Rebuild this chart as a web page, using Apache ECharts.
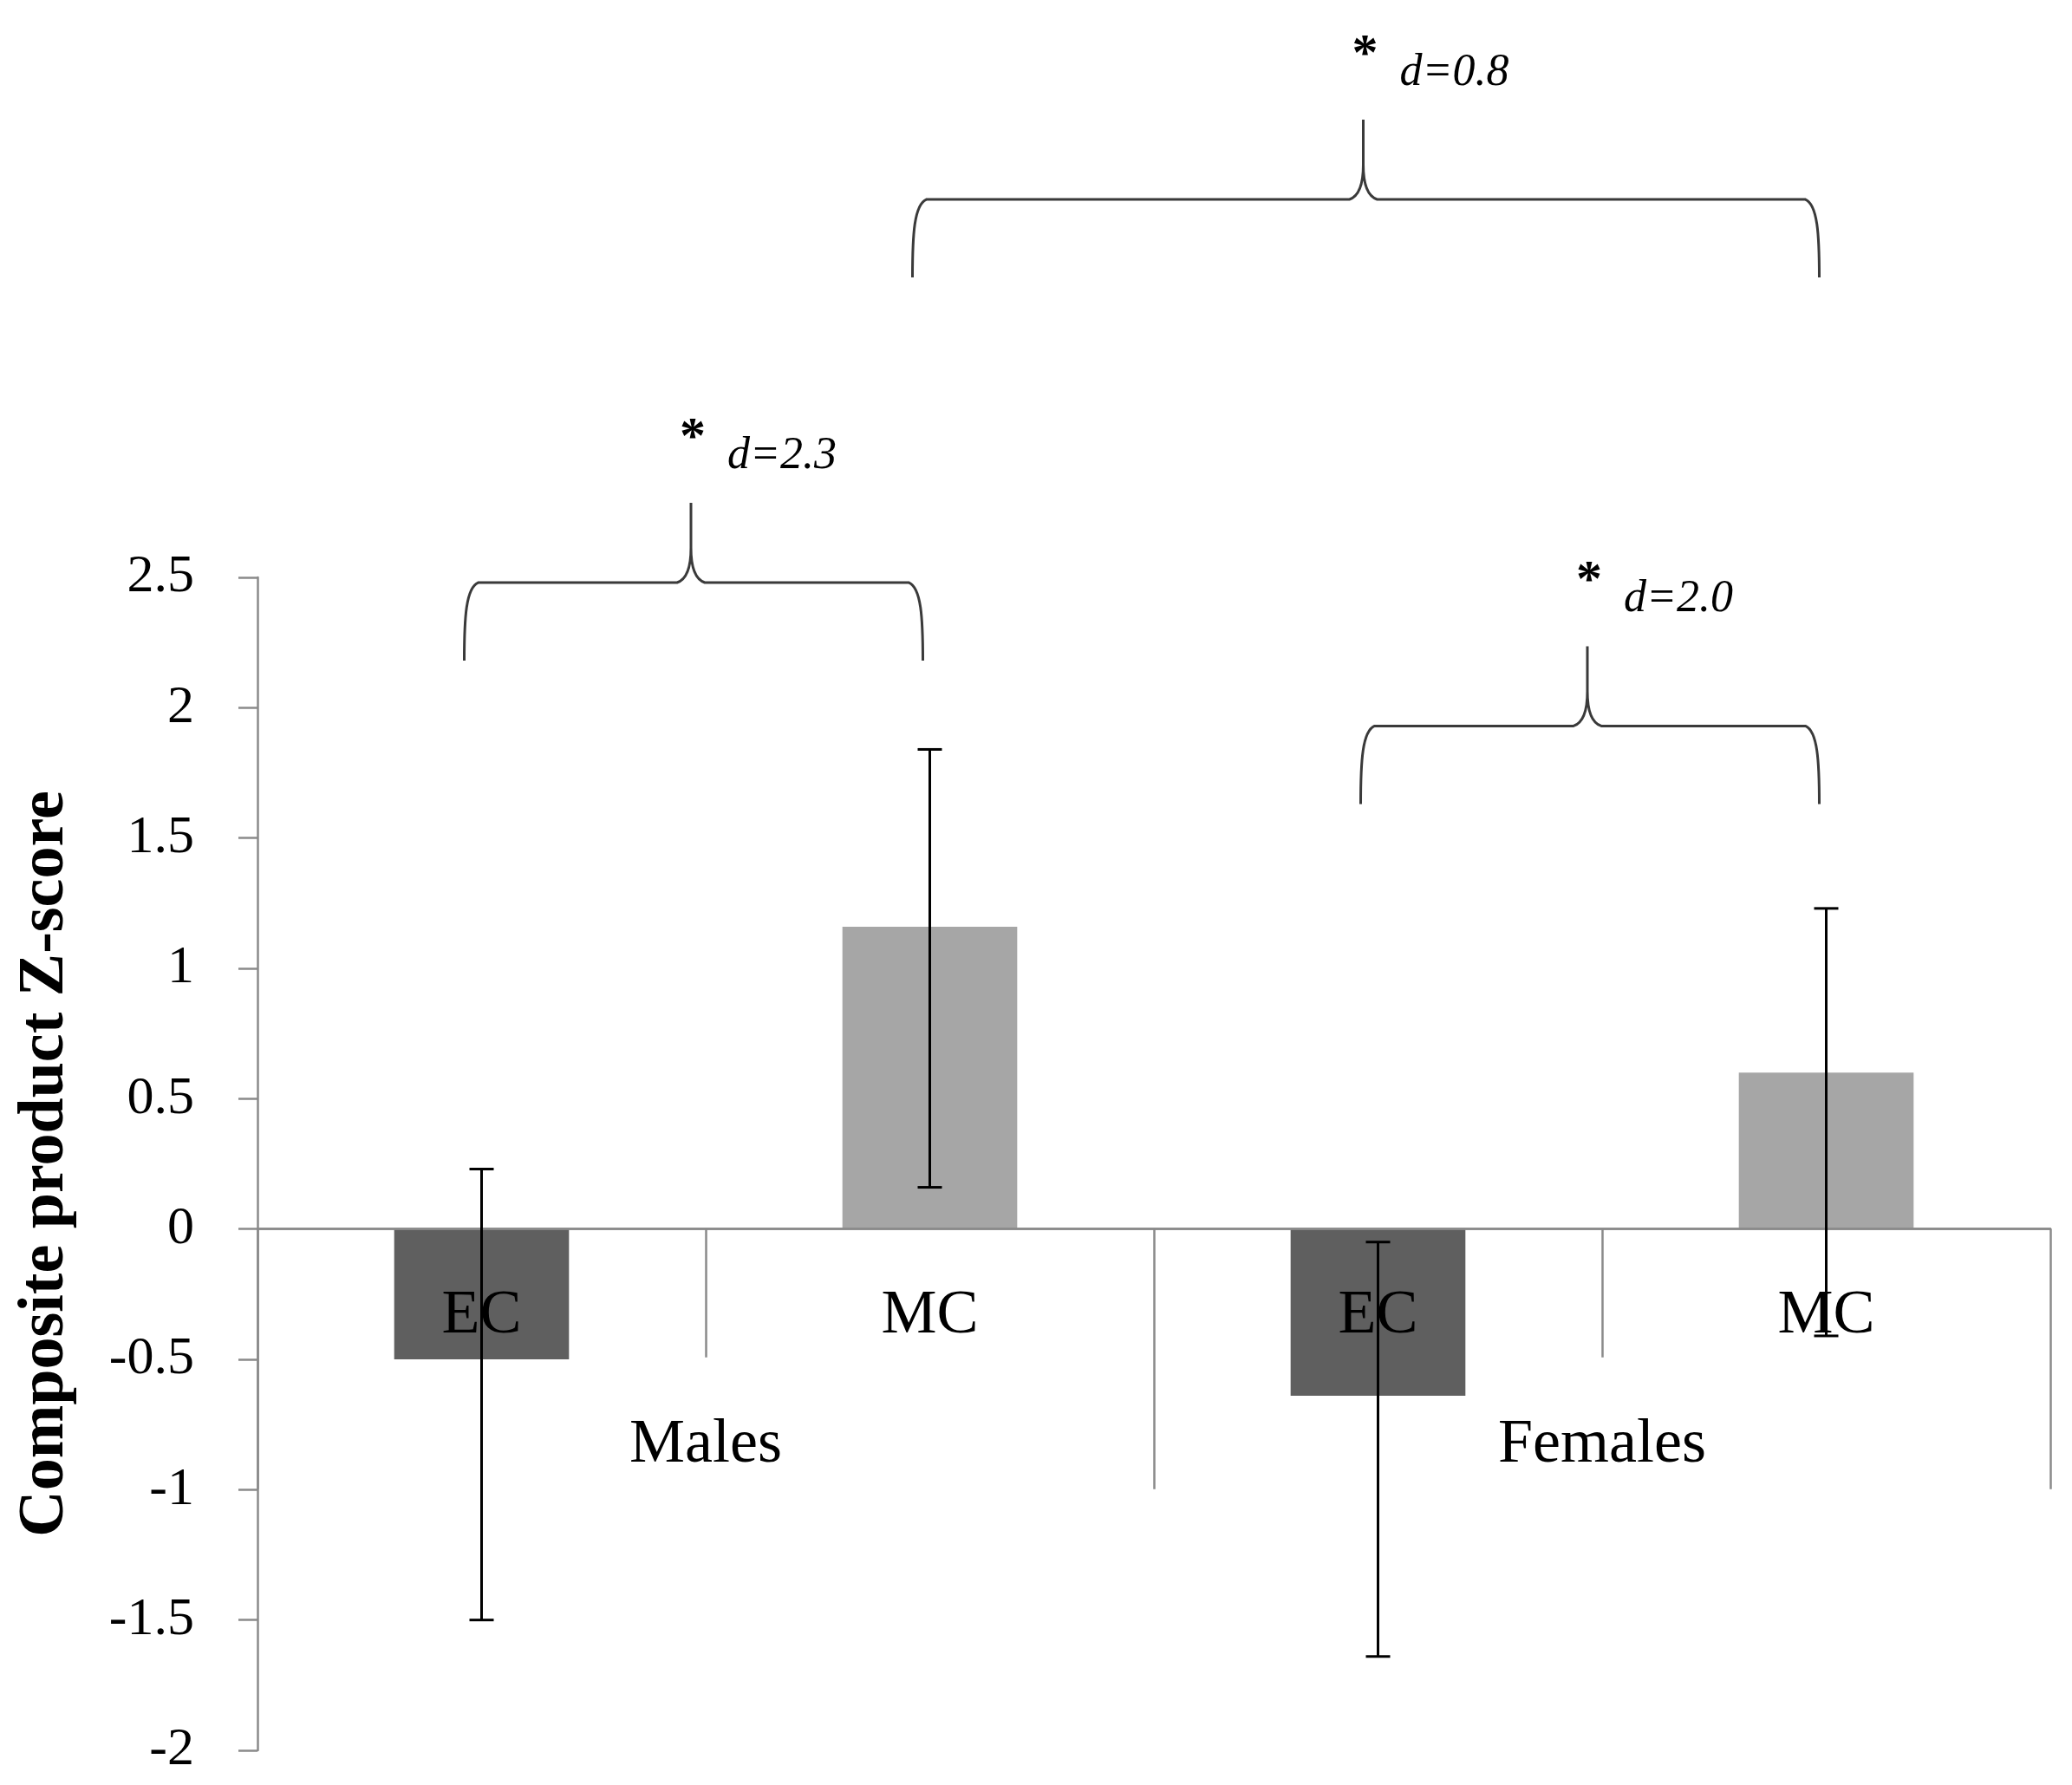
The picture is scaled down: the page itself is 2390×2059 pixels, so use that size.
<!DOCTYPE html>
<html>
<head>
<meta charset="utf-8">
<script src="https://cdn.jsdelivr.net/npm/echarts@6/dist/echarts.min.js"></script>
<style>
html,body{margin:0;padding:0;background:#fff;}
#chart{width:2390px;height:2059px;}
</style>
</head>
<body>
<div id="chart"></div>
<script>
// ---- data ----
var conditions = ['EC', 'MC', 'EC', 'MC'];
var groups = ['Males', 'Females'];
var means = [-0.50, 1.16, -0.64, 0.60];
var errLow = [-1.50, 0.16, -1.64, -0.41];
var errHigh = [0.23, 1.84, -0.05, 1.23];
var barColors = ['#5f5f5f', '#a6a6a6', '#5f5f5f', '#a6a6a6'];
var braceFrom = [0, 2, 1];
var braceTo = [1, 3, 3];
var braceLevel = [2.48, 1.93, 3.95];
var braceLabels = ['d=2.3', 'd=2.0', 'd=0.8'];
var yTicks = { min: -2, max: 2.5, interval: 0.5 };

var FONT = '"Liberation Serif", "DejaVu Serif", serif';
var AXIS_COLOR = '#8a8a8a';
var W = 2390, H = 2059;
var G = { left: 297, right: 25, top: 666, bottom: 40 };
// distance (px) from the grid bottom edge up to the value 0 of the y axis
var zeroLift = (0 - yTicks.min) / (yTicks.max - yTicks.min) * (H - G.top - G.bottom);

var chart = echarts.init(document.getElementById('chart'));

var barData = means.map(function (v, i) {
  return { value: v, itemStyle: { color: barColors[i] } };
});
var errData = means.map(function (v, i) { return [i, errLow[i], errHigh[i]]; });
var braceData = braceFrom.map(function (f, i) { return [f, braceTo[i], braceLevel[i]]; });

function renderErr(params, api) {
  var x = api.value(0);
  var lo = api.coord([x, api.value(1)]);
  var hi = api.coord([x, api.value(2)]);
  var cap = 14;
  var st = { stroke: '#000', lineWidth: 3, fill: null };
  return {
    type: 'group',
    children: [
      { type: 'line', shape: { x1: hi[0], y1: hi[1], x2: lo[0], y2: lo[1] }, style: st },
      { type: 'line', shape: { x1: hi[0] - cap, y1: hi[1], x2: hi[0] + cap, y2: hi[1] }, style: st },
      { type: 'line', shape: { x1: lo[0] - cap, y1: lo[1], x2: lo[0] + cap, y2: lo[1] }, style: st }
    ]
  };
}

function renderBrace(params, api) {
  var a = api.coord([api.value(0), api.value(2)]);
  var b = api.coord([api.value(1), api.value(2)]);
  var x0 = a[0] - 20, x1 = b[0] - 8, y = a[1];
  var xm = (x0 + x1) / 2 - 3;
  var drop = 90, rise = 92;
  var yEnd = y + drop, yTop = y - rise;
  var p = [
    'M', x0, yEnd,
    'C', x0, y + 40, x0 + 2, y + 6, x0 + 16, y,
    'L', xm - 16, y,
    'C', xm - 4, y - 4, xm, y - 20, xm, y - 40,
    'L', xm, yTop,
    'M', x1, yEnd,
    'C', x1, y + 40, x1 - 2, y + 6, x1 - 16, y,
    'L', xm + 16, y,
    'C', xm + 4, y - 4, xm, y - 20, xm, y - 40
  ].join(' ');
  return {
    type: 'group',
    children: [
      { type: 'path', shape: { pathData: p }, style: { stroke: '#3a3a3a', lineWidth: 3, fill: null } },
      { type: 'text', x: xm + 2, y: yTop - 74,
        style: { text: '*', font: 'bold 60px ' + FONT, fill: '#000', align: 'center', verticalAlign: 'middle' } },
      { type: 'text', x: xm + 42, y: yTop - 54,
        style: { text: braceLabels[params.dataIndex], font: 'italic 52px ' + FONT, fill: '#000', align: 'left', verticalAlign: 'middle' } }
    ]
  };
}

chart.setOption({
  animation: false,
  backgroundColor: '#fff',
  grid: { left: G.left, right: G.right, top: G.top, bottom: G.bottom, containLabel: false, outerBoundsMode: 'none' },
  xAxis: [
    {
      type: 'category', data: conditions, position: 'bottom', z: 3, offset: -zeroLift,
      axisLine: { onZero: false, lineStyle: { color: AXIS_COLOR, width: 2.5 } },
      axisTick: { show: true, length: 148, alignWithLabel: false, lineStyle: { color: AXIS_COLOR, width: 2.5 } },
      axisLabel: { margin: 64, fontSize: 72, fontFamily: FONT, color: '#000' },
      splitLine: { show: false }
    },
    {
      type: 'category', data: groups, position: 'bottom', z: 3, offset: -zeroLift,
      axisLine: { onZero: false, lineStyle: { color: AXIS_COLOR, width: 2.5 } },
      axisTick: { show: true, length: 300, lineStyle: { color: AXIS_COLOR, width: 2.5 } },
      axisLabel: { margin: 213, fontSize: 72, fontFamily: FONT, color: '#000' },
      splitLine: { show: false }
    }
  ],
  yAxis: {
    type: 'value', min: yTicks.min, max: yTicks.max, interval: yTicks.interval,
    name: 'Composite product Z-score', nameLocation: 'middle', nameGap: 207, nameMoveOverlap: false,
    nameTextStyle: { fontSize: 74, fontWeight: 'bold', fontFamily: FONT, color: '#000' },
    axisLine: { show: true, lineStyle: { color: AXIS_COLOR, width: 2.5 } },
    axisTick: { show: true, length: 22, lineStyle: { color: AXIS_COLOR, width: 2.5 } },
    axisLabel: { margin: 73, fontSize: 62, fontFamily: FONT, color: '#000' },
    splitLine: { show: false }
  },
  series: [
    { type: 'bar', xAxisIndex: 0, data: barData, barWidth: '39%', z: 2 },
    { type: 'custom', xAxisIndex: 0, renderItem: renderErr, data: errData, encode: { x: 0, y: [1, 2] }, z: 5 },
    { type: 'custom', xAxisIndex: 0, renderItem: renderBrace, data: braceData, encode: { x: [0, 1], y: 2 }, clip: false, z: 6 }
  ]
});
</script>
</body>
</html>
